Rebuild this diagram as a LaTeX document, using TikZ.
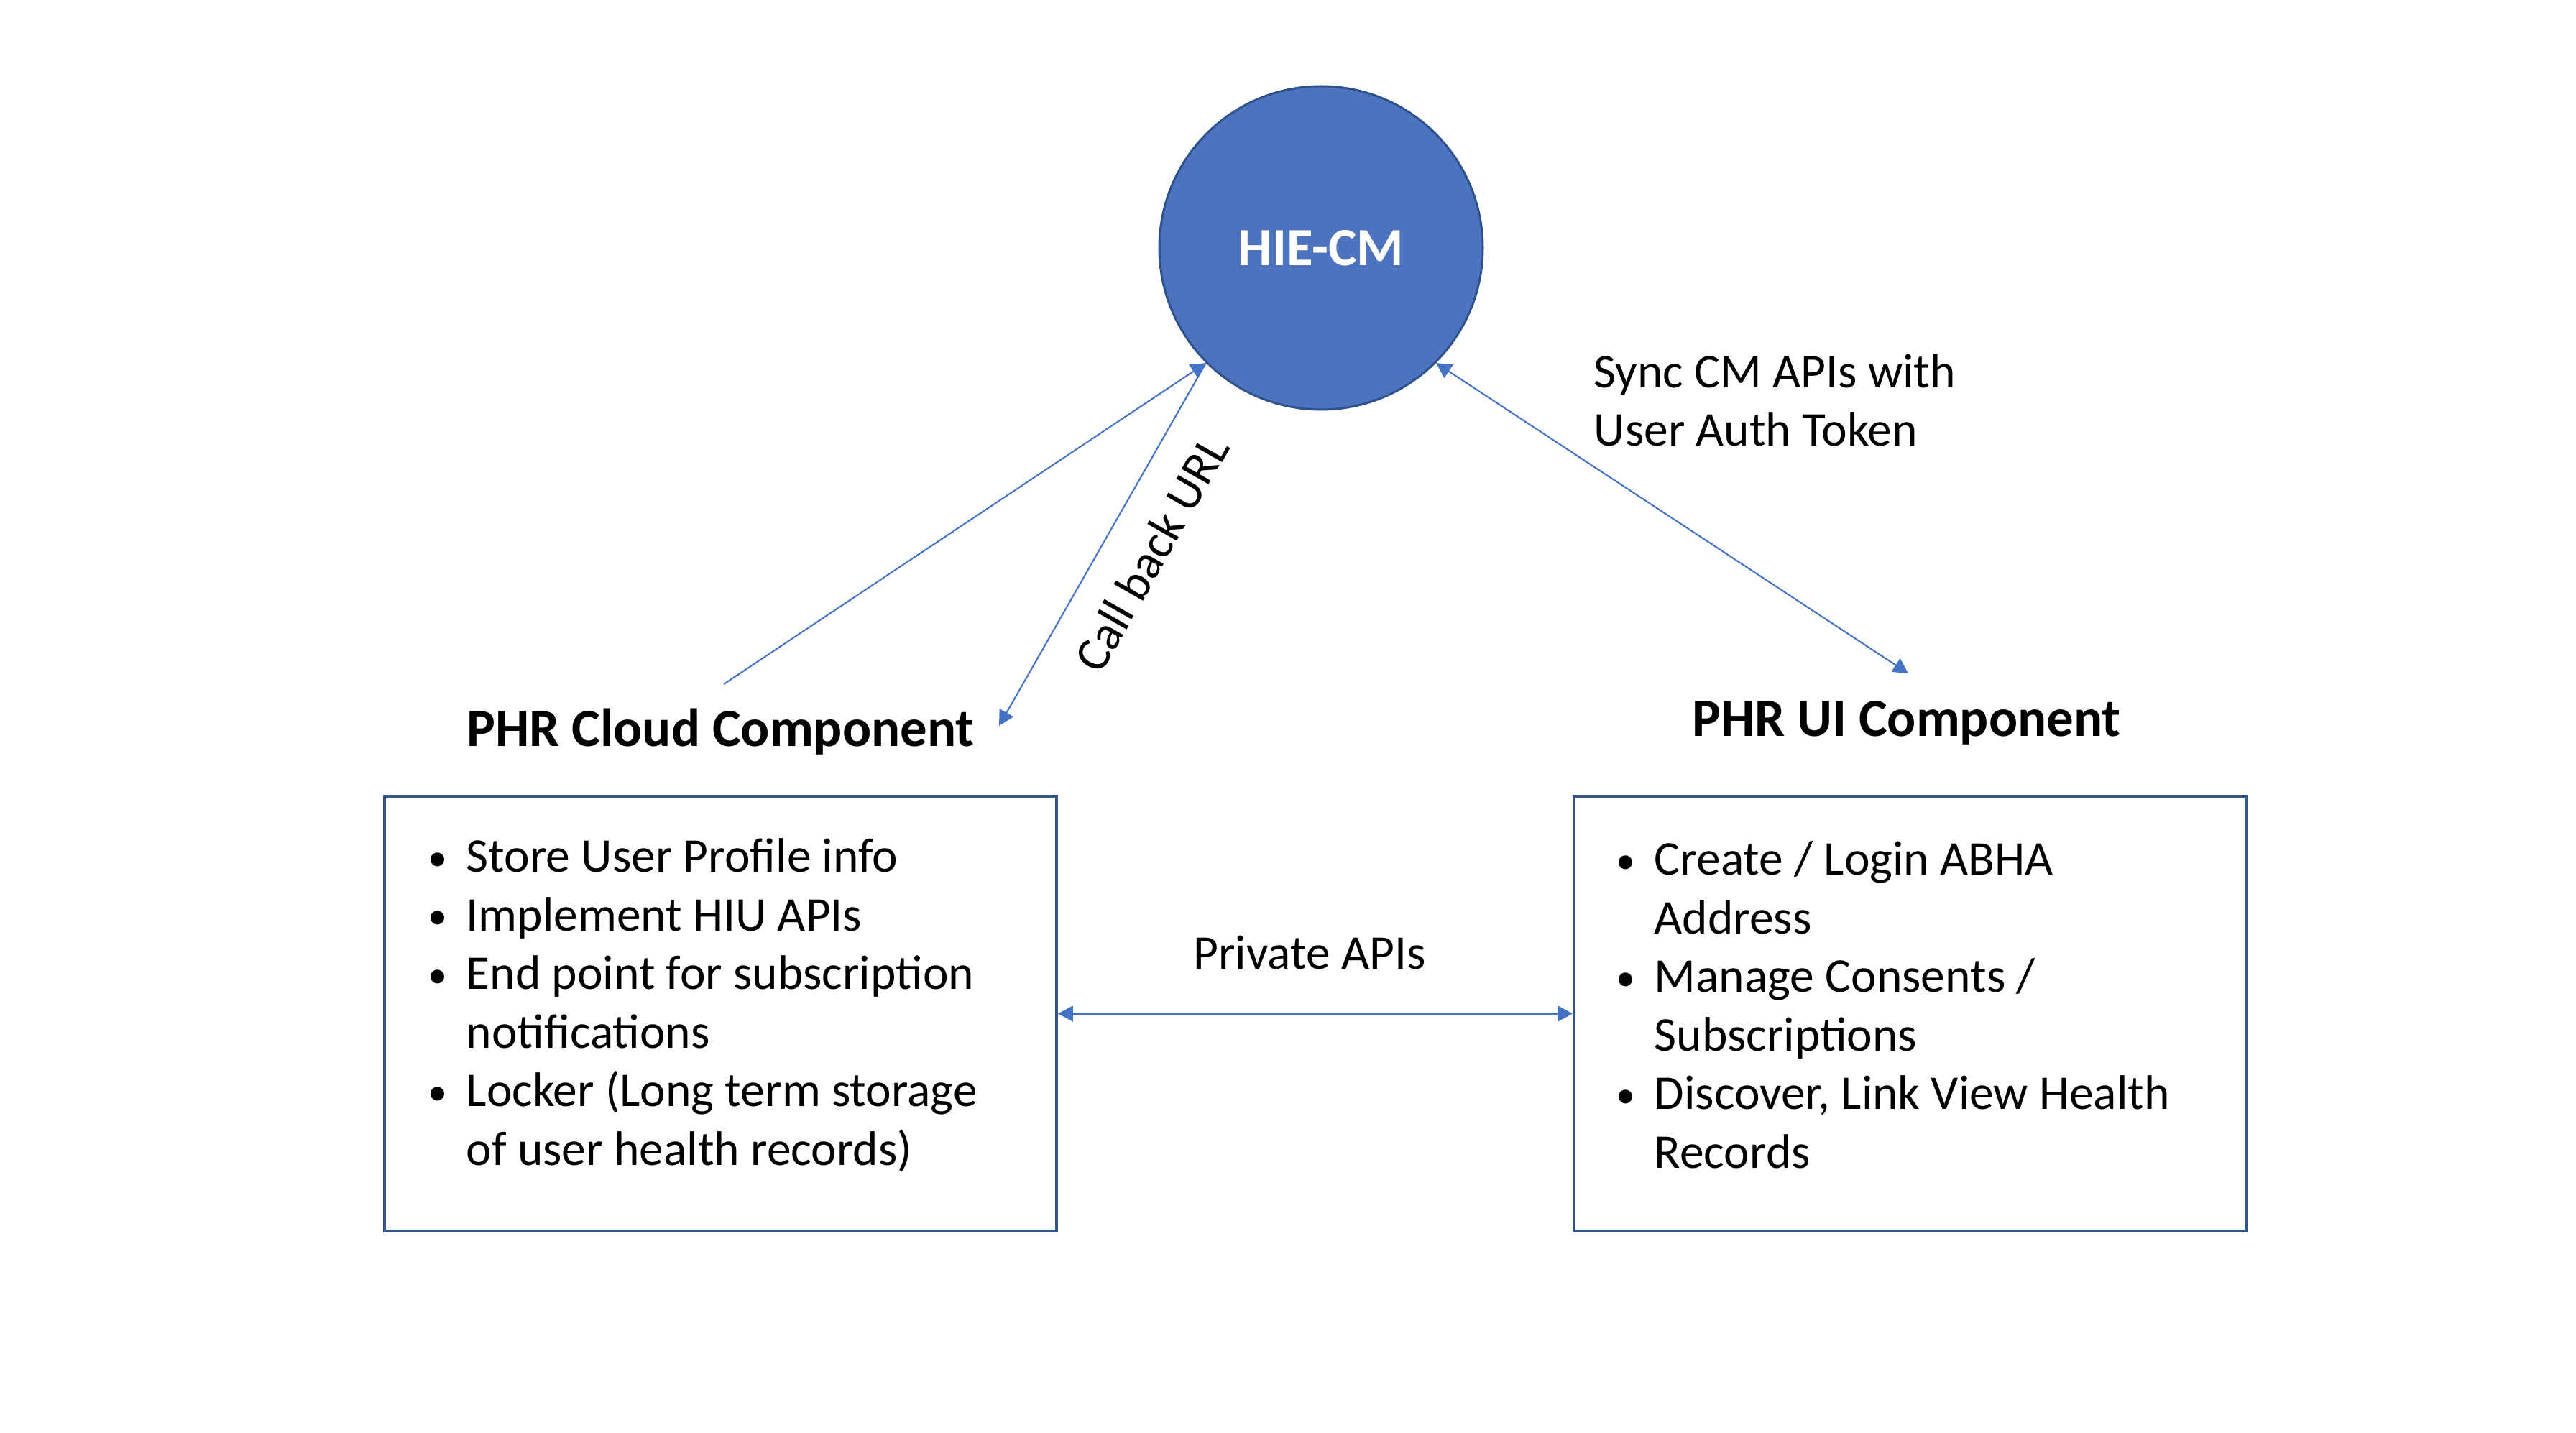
\documentclass[tikz,border=0pt]{standalone}
\usepackage{fontspec}
\setmainfont{Carlito}
\usetikzlibrary{arrows.meta, positioning}
\definecolor{hubblue}{HTML}{4E73BE}
\definecolor{hubline}{HTML}{2F528F}
\definecolor{boxline}{HTML}{34548C}
\definecolor{linkblue}{HTML}{4472C4}
\newcommand{\itm}[1]{\makebox[0.53cm][l]{\raisebox{0.04em}{\scalebox{0.8}{\textbullet}}}#1}
\newcommand{\cont}[1]{\hspace*{0.53cm}#1}

\begin{document}
\begin{tikzpicture}[node distance=3cm,on grid,>={Triangle[length=0.21cm,width=0.22cm]},
	hub/.style={circle, fill=hubblue, draw=hubline, line width=0.85pt, minimum size=4.5cm, inner sep=0pt, text=white, font=\fontsize{21.3}{25}\selectfont\bfseries},
	comp/.style={rectangle, draw=boxline, line width=1.1pt, minimum width=9.35cm, minimum height=6.05cm},
	title/.style={font=\fontsize{21.3}{25}\selectfont\bfseries},
	txt/.style={font=\fontsize{19.2}{23.2}\selectfont, align=left, inner sep=0pt},
	every edge/.style={draw=linkblue, line width=0.6pt}]
	
	\useasboundingbox (0,0) rectangle (35.84,19.94);
	
	\node (cm) [hub] at (18.38,16.49) {HIE-CM};
	\node (cloud) [comp, below left=10.655cm and 8.355cm of cm] {};
	\node (ui) [comp, below right=10.655cm and 8.195cm of cm] {};
	\node (cloudlbl) [title, above=3.92cm of cloud] {PHR Cloud Component};
	\node (uilbl) [title, above=4.05cm of ui, xshift=-0.05cm] {PHR UI Component};
	
	\node (cloudlist) [txt, anchor=north west] at ([xshift=0.62cm,yshift=-0.5cm]cloud.north west)
	{\strut\itm{Store User Profile info}\\ \itm{Implement HIU APIs}\\ \itm{End point for subscription}\\ \cont{notifications}\\ \itm{Locker (Long term storage}\\ \cont{of user health records)}};
	\node (uilist) [txt, anchor=north west] at ([xshift=0.60cm,yshift=-0.54cm]ui.north west)
	{\strut\itm{Create / Login ABHA}\\ \cont{Address}\\ \itm{Manage Consents /}\\ \cont{Subscriptions}\\ \itm{Discover, Link View Health}\\ \cont{Records}};
	
	\node (sync) [txt, anchor=west] at (22.17,14.37) {Sync CM APIs with\\User Auth Token};
	
	\coordinate (cloudtop) at (10.07,10.42);
	\coordinate (cbend) at (13.90,9.84);
	\coordinate (uiend) at (26.55,10.57);
	
	\path [->]
	(cloudtop) edge (cm.225)
	(cm.225) edge node [txt, sloped, pos=0.46, below=0.4cm] {Call back URL} (cbend)
	(cm.-45) edge [<->] (uiend)
	(cloud.east) edge [<->] node [txt, midway, yshift=0.85cm, xshift=-0.08cm] {Private APIs} (ui.west);
\end{tikzpicture}
\end{document}
